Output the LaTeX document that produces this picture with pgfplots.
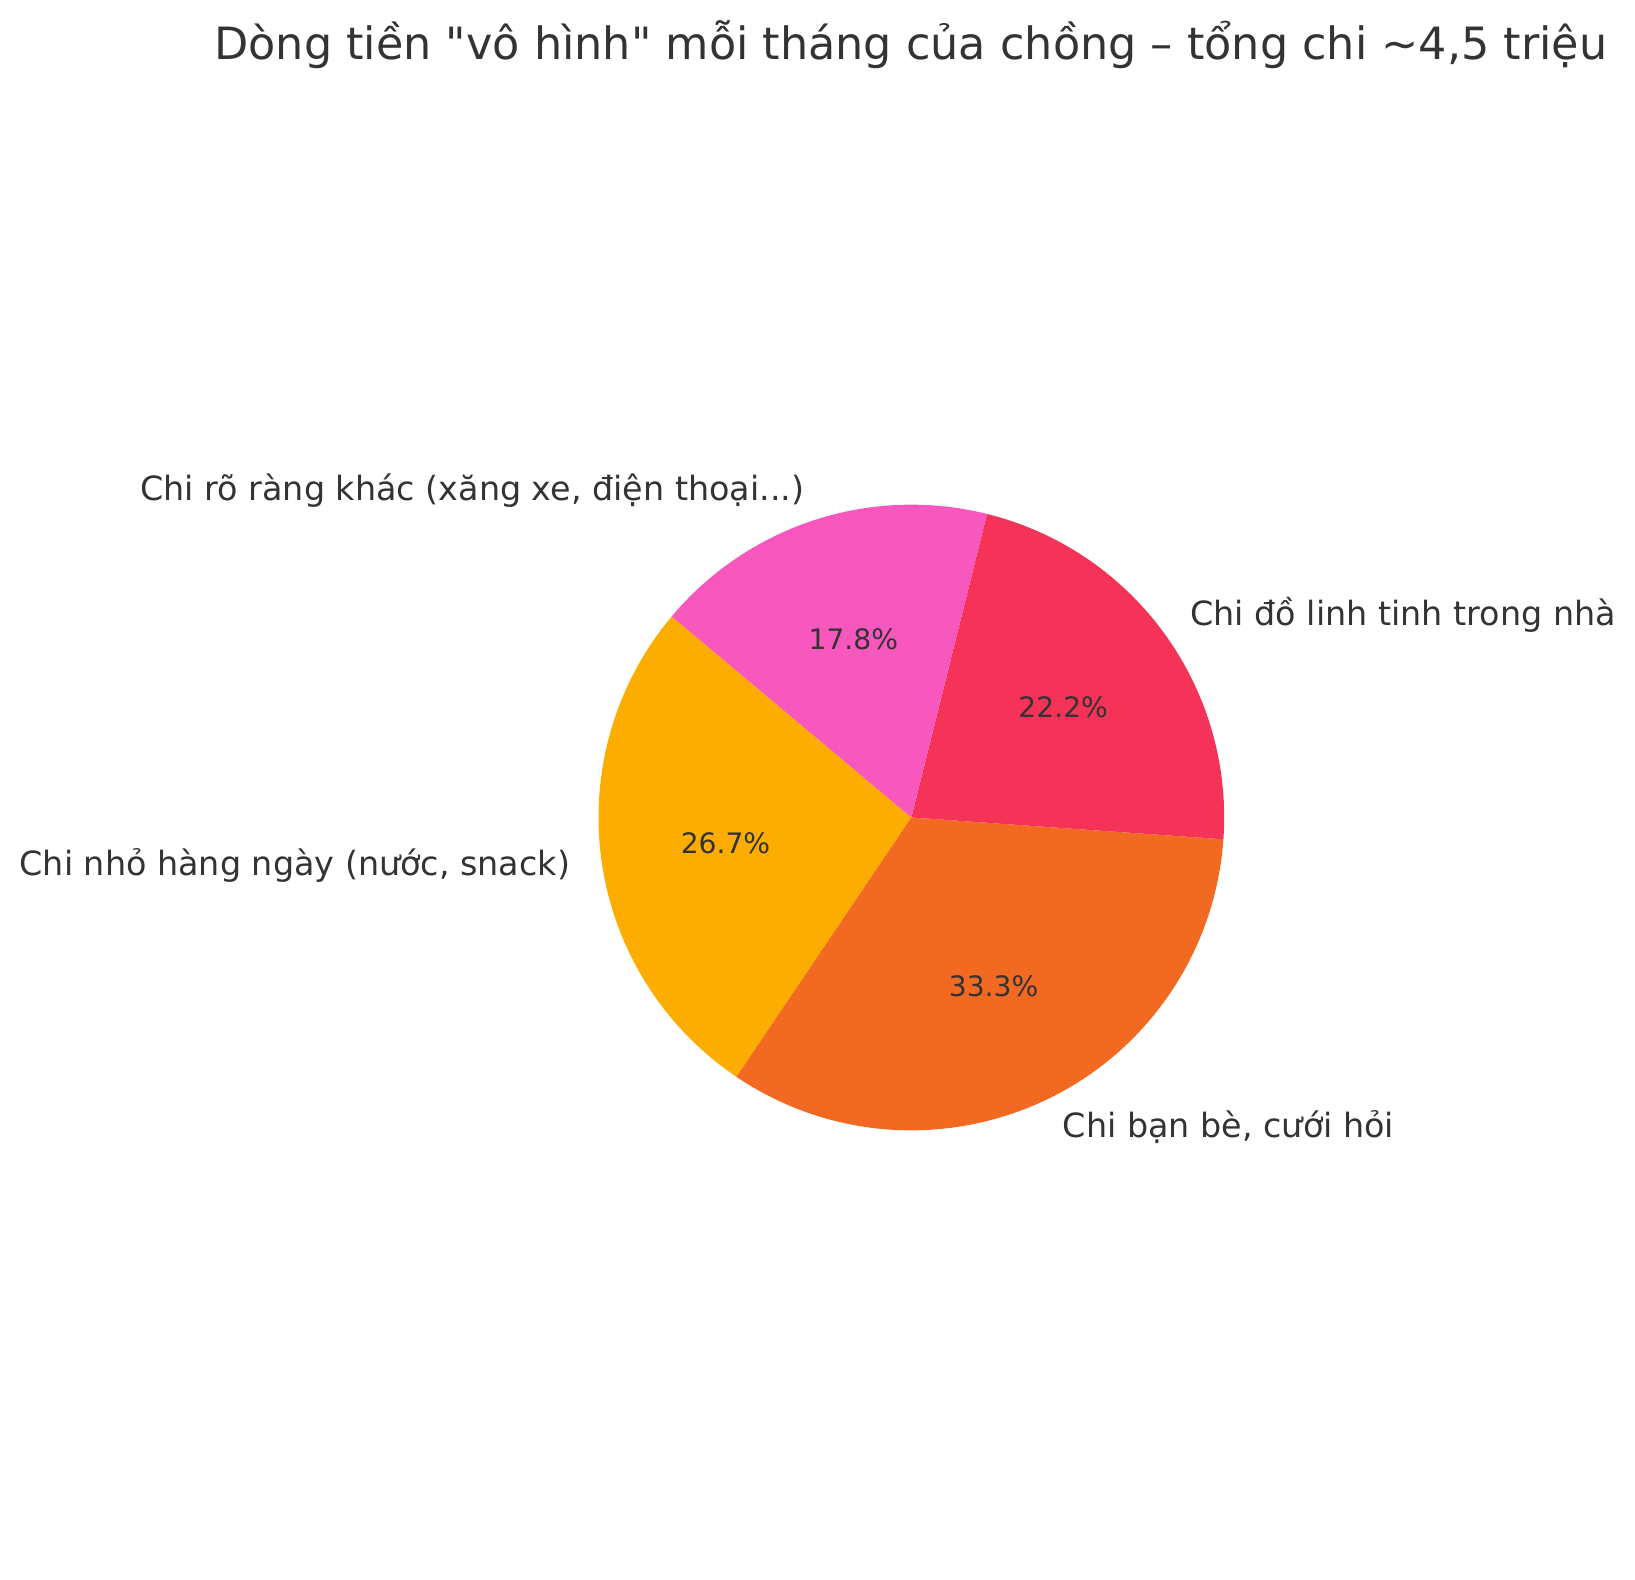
\documentclass[border=0pt]{standalone}
\usepackage{pgfplots}
\usepackage{pgfplotstable}
\pgfplotsset{compat=1.18}
\usepackage{fontspec}
\setmainfont{DejaVu Sans}[Ligatures=TeXOff]

\definecolor{txt}{HTML}{333333}
\definecolor{cnho}{HTML}{FDAC00}
\definecolor{cban}{HTML}{F26A21}
\definecolor{cdo}{HTML}{F53257}
\definecolor{cro}{HTML}{F857BE}

% spending per month, million VND (total 4.5)
\pgfplotstableread[col sep=semicolon]{
label;value;color
Chi nhỏ hàng ngày (nước, snack);1.2;cnho
Chi bạn bè, cưới hỏi;1.5;cban
Chi đồ linh tinh trong nhà;1.0;cdo
Chi rõ ràng khác (xăng xe, điện thoại...);0.8;cro
}\piedata

\begin{document}
\begin{tikzpicture}
\begin{axis}[
    scale only axis,
    width=470.4pt, height=454.5pt,
    xmin=0, xmax=1568, ymin=0, ymax=1515,
    hide axis, clip=false,
]
\path (axis cs:0,0) rectangle (axis cs:1568,1515);
\node[anchor=base, text=txt, inner sep=0pt, font=\fontsize{12.8}{15}\selectfont]
    at (axis cs:873.5,1457.5)
    {Dòng tiền "vô hình" mỗi tháng của chồng – tổng chi \textasciitilde 4,5 triệu};

\pgfplotstablegetrowsof{\piedata}
\pgfmathtruncatemacro\nrows{\pgfplotsretval-1}
\pgfmathsetmacro\angstart{140}
\pgfplotsforeachungrouped \i in {0,...,\nrows}{
    \pgfplotstablegetelem{\i}{value}\of\piedata \let\val\pgfplotsretval
    \pgfplotstablegetelem{\i}{color}\of\piedata \let\col\pgfplotsretval
    \pgfplotstablegetelem{\i}{label}\of\piedata \let\lbl\pgfplotsretval
    \pgfmathsetmacro\sweep{360*\val/4.5}
    \pgfmathsetmacro\angend{\angstart+\sweep}
    \pgfmathsetmacro\angmid{\angstart+\sweep/2}
    \pgfmathsetmacro\pct{100*\val/4.5}
    \pgfmathsetmacro\lx{874+330*cos(\angmid)}
    \pgfmathsetmacro\ly{731+330*sin(\angmid)}
    \pgfmathsetmacro\px{874+180*cos(\angmid)}
    \pgfmathsetmacro\py{731+180*sin(\angmid)}
    \pgfmathparse{cos(\angmid)>0 ? "west" : "east"}\let\anc\pgfmathresult
    \edef\cmd{%
        \noexpand\fill[\col] (axis cs:874,731) -- ++(\angstart:90pt)
            arc[start angle=\angstart, end angle=\angend, radius=90pt] -- cycle;
        \noexpand\node[anchor=\anc, text=txt, inner sep=0pt, font=\noexpand\fontsize{9.6}{12}\noexpand\selectfont]
            at (axis cs:\lx,\ly) {\unexpanded\expandafter{\lbl}};
        \noexpand\node[text=txt, inner sep=0pt, font=\noexpand\fontsize{8.1}{10}\noexpand\selectfont]
            at (axis cs:\px,\py)
            {\noexpand\pgfmathprintnumber[fixed,fixed zerofill,precision=1,assume math mode=true]{\pct}\noexpand\%};
    }
    \cmd
    \let\angstart\angend
}
\end{axis}
\end{tikzpicture}
\end{document}
